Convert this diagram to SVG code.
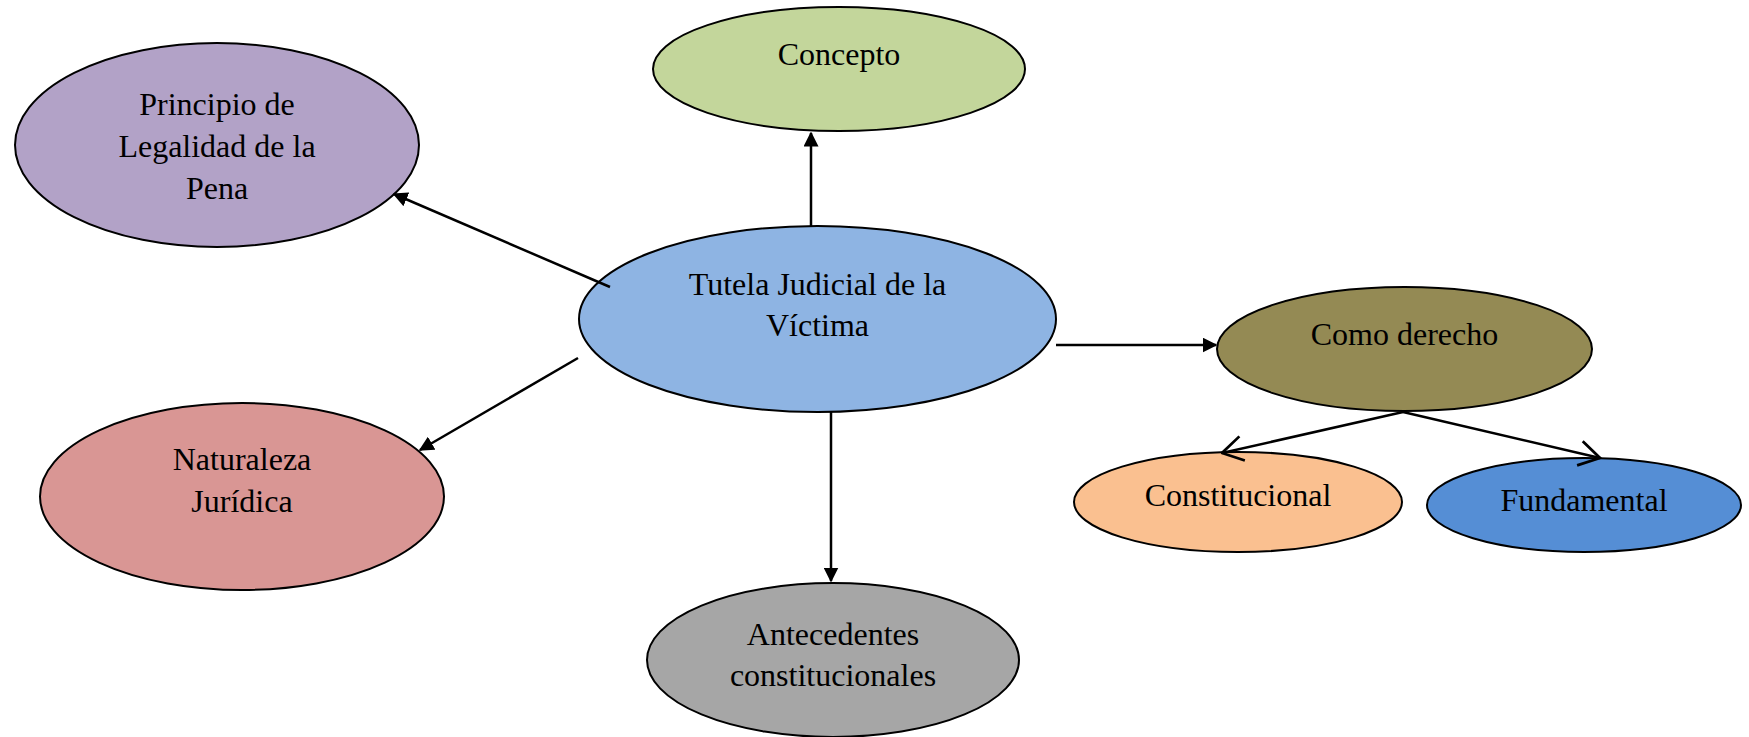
<svg xmlns="http://www.w3.org/2000/svg" width="1749" height="737" viewBox="0 0 1749 737">
<style>
.n{stroke:#000;stroke-width:2}
.t{font-family:"Liberation Serif","Times New Roman",serif;font-size:32px;fill:#000;text-anchor:middle}
.c{stroke:#000;stroke-width:2.5;fill:none}
</style>
<defs>
<marker id="fa" viewBox="0 0 10 10" refX="9" refY="5" markerWidth="6" markerHeight="6" markerUnits="strokeWidth" orient="auto"><path d="M0,0 L10,5 L0,10 z" fill="#000"/></marker>
<marker id="oa" viewBox="0 0 10 10" refX="9.5" refY="5" markerWidth="11" markerHeight="11" markerUnits="strokeWidth" orient="auto"><path d="M2,0.5 L9.5,5 L2,9.5" fill="none" stroke="#000" stroke-width="1"/></marker>
</defs>
<rect width="1749" height="737" fill="#fff"/>
<g id="concepto"><ellipse class="n" cx="839" cy="69" rx="186" ry="62" fill="#C3D69B"/><text class="t" x="839" y="65">Concepto</text></g>
<g id="principio"><ellipse class="n" cx="217" cy="145" rx="202" ry="102" fill="#B2A2C7"/><text class="t" x="217" y="115">Principio de</text><text class="t" x="217" y="157">Legalidad de la</text><text class="t" x="217" y="199">Pena</text></g>
<g id="tutela"><ellipse class="n" cx="817.5" cy="319" rx="238.5" ry="93" fill="#8EB4E3"/><text class="t" x="817.5" y="295">Tutela Judicial de la</text><text class="t" x="817.5" y="336">Víctima</text></g>
<g id="como"><ellipse class="n" cx="1404.5" cy="349" rx="187.5" ry="62" fill="#948A54"/><text class="t" x="1404.5" y="345">Como derecho</text></g>
<g id="naturaleza"><ellipse class="n" cx="242" cy="496.5" rx="202" ry="93.5" fill="#D99694"/><text class="t" x="242" y="470">Naturaleza</text><text class="t" x="242" y="512">Jurídica</text></g>
<g id="constitucional"><ellipse class="n" cx="1238" cy="502" rx="164" ry="50" fill="#FAC090"/><text class="t" x="1238" y="506">Constitucional</text></g>
<g id="fundamental"><ellipse class="n" cx="1584" cy="505" rx="157" ry="47" fill="#558ED5"/><text class="t" x="1584" y="511">Fundamental</text></g>
<g id="antecedentes"><ellipse class="n" cx="833" cy="660" rx="186" ry="77" fill="#A6A6A6"/><text class="t" x="833" y="645">Antecedentes</text><text class="t" x="833" y="686">constitucionales</text></g>
<g id="connectors">
<line class="c" x1="811" y1="226" x2="811" y2="133" marker-end="url(#fa)"/>
<line class="c" x1="610" y1="287" x2="394" y2="194" marker-end="url(#fa)"/>
<line class="c" x1="578" y1="358" x2="420" y2="450" marker-end="url(#fa)"/>
<line class="c" x1="831" y1="412" x2="831" y2="581" marker-end="url(#fa)"/>
<line class="c" x1="1056" y1="345" x2="1216" y2="345" marker-end="url(#fa)"/>
<line class="c" x1="1403" y1="412" x2="1222" y2="453" marker-end="url(#oa)"/>
<line class="c" x1="1403" y1="412" x2="1600" y2="458" marker-end="url(#oa)"/>
</g>
</svg>
